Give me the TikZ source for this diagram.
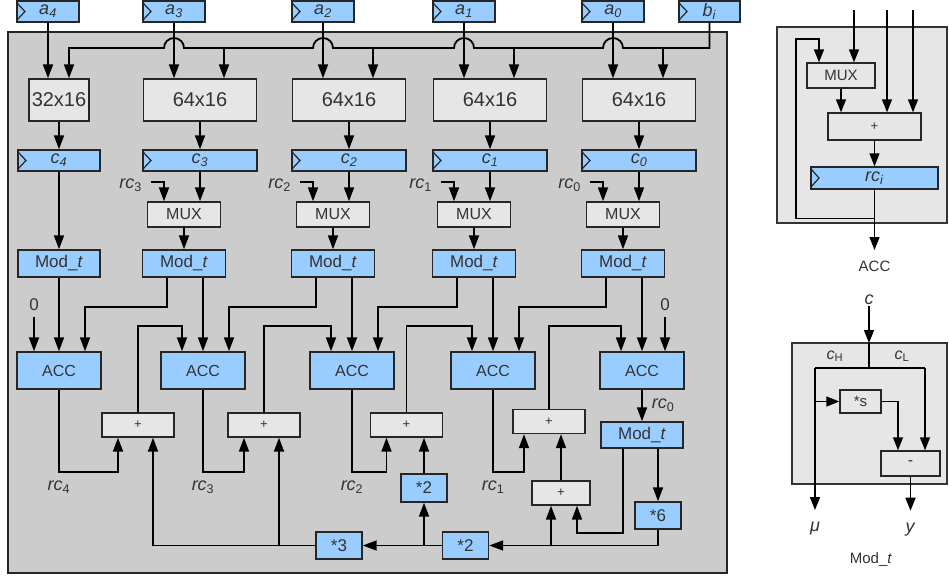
\documentclass[tikz,border=0pt]{standalone}
\usepackage{fontspec}
\setmainfont{Liberation Sans}
\usepackage{xcolor}
\usepackage{tikz}
\usetikzlibrary{arrows.meta, calc, positioning}

\definecolor{regblue}{HTML}{99CCFF}
\definecolor{boxgray}{HTML}{E6E6E6}
\definecolor{bggray}{HTML}{CCCCCC}
\definecolor{txtgray}{HTML}{333333}

\newcommand{\pxfont}[1]{\fontsize{#1pt}{#1pt}\selectfont}
\newcommand{\sig}[2]{\textit{#1}\textsubscript{\textit{#2}}}
\newcommand{\rcsub}[1]{\textit{rc}\textsubscript{#1}}

\begin{document}
\begin{tikzpicture}[x=1pt, y=-1pt, line join=miter,
  wire/.style={line width=1.8pt},
  arr/.style={wire, -{Triangle[length=14pt, width=10pt]}},
  iwire/.style={line width=1.5pt},
  iarr/.style={iwire, -{Triangle[length=13pt, width=10pt]}},
  blk/.style={draw=black!85, line width=1.4pt, inner sep=0pt, text=txtgray},
  mul/.style={blk, fill=boxgray, minimum width=113pt, minimum height=42pt, font=\pxfont{20}},
  reg/.style={blk, fill=regblue, minimum height=21pt, font=\pxfont{18},
    path picture={\draw[line width=1.2pt]
      ([yshift=-2pt]path picture bounding box.north west)
      -- ([xshift=8pt]path picture bounding box.west)
      -- ([yshift=2pt]path picture bounding box.south west);}},
  mux/.style={blk, fill=boxgray, minimum width=73pt, minimum height=25pt, font=\pxfont{16}},
  modt/.style={blk, fill=regblue, minimum width=83pt, minimum height=27pt, font=\pxfont{17}},
  acc/.style={blk, fill=regblue, minimum width=84pt, minimum height=37pt, font=\pxfont{16}},
  plus/.style={blk, fill=boxgray, minimum width=72pt, minimum height=24pt, font=\pxfont{13}},
  scl/.style={blk, fill=regblue, minimum width=46pt, minimum height=27pt, font=\pxfont{17}},
  lbl/.style={inner sep=1pt, text=txtgray, font=\pxfont{17}},
  frame/.style={draw=black!85, line width=2pt, fill=bggray},
  inset/.style={draw=black!80, line width=1.2pt, fill=boxgray}]
\useasboundingbox (0,0) rectangle (949,577);
% Main frame
\draw[frame] (8,32) rectangle (727,573);
% Columns 3..0
\foreach \k/\x in {3/174,2/323,1/464,0/613} {
  \node[reg, minimum width=62pt] (a\k) at (\x,11.5) {\sig{a}{\k}};
  \node[mul] (m\k) at (\x+26,100) {64x16};
  \node[reg, minimum width=114pt] (c\k) at (\x+26,160.5) {\sig{c}{\k}};
  \node[mux] (mux\k) at (\x+10,214.5) {MUX};
  \node[modt] (mod\k) at (\x+10,263.5) {Mod\_\textit{t}};
  \node[acc] (acc\k) at (\x+29,370.5) {ACC};
}
% Column 4 and b_i
\node[reg, minimum width=62pt] (a4) at (48,11.5) {\sig{a}{4}};
\node[reg, minimum width=61pt] (bi) at (709.5,11.5) {\sig{b}{i}};
\node[mul, minimum width=60pt] (m4) at (59,100) {32x16};
\node[reg, minimum width=82pt] (c4) at (59,160.5) {\sig{c}{4}};
\node[modt, minimum width=82pt] (mod4) at (59,263.5) {Mod\_\textit{t}};
\node[acc] (acc4) at (59,370.5) {ACC};
% b_i bus with jumps
\coordinate (bus) at (709.5,48);
\coordinate (t4) at ($(m4.north)+(10,0)$);
\draw[arr] (bi.south) -- (bus)
  \foreach \k in {0,1,2,3} {
    -- ($(a\k.south |- bus)+(10,0)$) arc[start angle=0, end angle=180, radius=10pt]
  } -- (t4 |- bus) -- (t4);
\foreach \k in {3,2,1,0} {
  \coordinate (t\k) at ($(m\k.north)+(24,0)$);
  \draw[arr] (t\k |- bus) -- (t\k);
}
\foreach \k in {4,3,2,1,0}
  \draw[arr] (a\k.south) -- (a\k.south |- m\k.north);
\foreach \k in {4,3,2,1,0}
  \draw[arr] (m\k.south) -- (c\k.north);
\draw[arr] (c4.south) -- (mod4.north);
% MUX inputs
\foreach \k in {3,2,1,0} {
  \draw[arr] (c\k.south) -- (c\k.south |- mux\k.north);
  \coordinate (r\k) at ($(mux\k.north)+(-20,0)$);
  \coordinate (rs\k) at ($(r\k)+(-13,-19)$);
  \draw[arr] (rs\k) -| (r\k);
  \node[lbl, anchor=base east, font=\pxfont{18}] (lr\k) at ($(rs\k)+(-8,6)$) {\rcsub{\k}};
  \draw[arr] (mux\k.south) -- (mod\k.north);
  \draw[arr] ($(mod\k.south)+(19,0)$) -- (acc\k.north);
}
\draw[arr] (mod4.south) -- (acc4.north);
\foreach \k/\j in {3/4,2/3,1/2,0/1}
  \draw[arr] ($(mod\k.south)+(-17,0)$) -- ++(0,29) -| ($(acc\j.north)+(26,0)$);
% Zero inputs
\node[lbl] (z4) at ($(acc4.north)+(-25,-47)$) {0};
\draw[arr, shorten <=5pt] (z4) -- (z4 |- acc4.north);
\node[lbl] (z0) at ($(acc0.north)+(23,-47)$) {0};
\draw[arr, shorten <=5pt] (z0) -- (z0 |- acc0.north);
% Adders
\node[plus] (p4) at (138,425) {+};
\node[plus] (p3) at (264,425) {+};
\node[plus] (p2) at (406.5,425) {+};
\node[plus] (p1) at (549,421.5) {+};
\node[plus, minimum width=58pt] (p0) at (561,493) {+};
\foreach \j/\k in {4/3,3/2,2/1,1/0}
  \draw[arr] (p\j.north) |- ($(acc\k.north)+(-21,-25)$) -- ($(acc\k.north)+(-21,0)$);
\foreach \k/\d in {4/-20,3/-20,2/-20,1/-25} {
  \draw[arr] (acc\k.south) -- ++(0,82) coordinate (o\k) -| ($(p\k.south)+(\d,0)$);
  \node[lbl, anchor=base, font=\pxfont{18}] (lo\k) at ($(o\k)+(0,19)$) {\rcsub{\k}};
}
% Scaling chain
\node[scl] (x3) at (339,545.5) {*3};
\node[scl] (x2b) at (465.5,545.5) {*2};
\node[scl, minimum height=28pt] (x2a) at (424,488) {*2};
\node[modt, minimum width=82pt, minimum height=26pt] (modr) at (642,435) {Mod\_\textit{t}};
\node[scl] (x6) at (658,515.5) {*6};
\draw[arr] (acc0.south) -- node[lbl, right=8pt, font=\pxfont{18}] (lrr) {\rcsub{0}} (modr.north);
\draw[arr] ($(modr.south)+(16,0)$) -- (x6.north);
\draw[arr] ($(modr.south)+(-19,0)$) -- ++(0,84) -| ($(p0.south)+(16,0)$);
\draw[arr] (x6.south) |- (x2b.east);
\coordinate (j0) at ($(p0.south)+(-10,0)$);
\draw[arr] (j0 |- x2b.east) -- (j0);
\draw[arr] (p0.north) -- (p0.north |- p1.south);
\draw[arr] (x2b.west) -- (x3.east);
\draw[arr] (x2a.south |- x3.east) -- (x2a.south);
\draw[arr] (x2a.north) -- (x2a.north |- p2.south);
\draw[arr] (x3.west) -| ($(p4.south)+(15,0)$);
\coordinate (q3) at ($(p3.south)+(15,0)$);
\draw[arr] (q3 |- x3.west) -- (q3);
% ACC detail
\draw[inset] (777,27) rectangle (947,223);
\node[mux, minimum width=68pt, font=\pxfont{15}] (imux) at (841,75.5) {MUX};
\node[plus, minimum width=93pt, minimum height=27pt] (iplus) at (874.5,126.5) {+};
\node[reg, minimum width=127pt, minimum height=22pt] (irc) at (874.5,178) {\sig{rc}{i}};
\coordinate (in1) at (854,10);
\coordinate (in2) at (887,10);
\coordinate (in3) at (913,10);
\draw[iarr] (in1) -- (in1 |- imux.north);
\draw[iarr] (in2) -- (in2 |- iplus.north);
\draw[iarr] (in3) -- (in3 |- iplus.north);
\draw[iarr] (imux.south) -- (imux.south |- iplus.north);
\draw[iarr] (iplus.south) -- (irc.north);
\coordinate (iout) at (874.5,250);
\draw[iarr] (irc.south) -- (iout);
\draw[iarr] (irc.south) -- ++(0,29) -| (796,39) -| ($(imux.north)+(-22,0)$);
\node[lbl, font=\pxfont{15}] (iacc) at (874.5,266) {ACC};
% Mod_t detail
\draw[inset] (792,343) rectangle (947,484);
\node[lbl, font=\pxfont{18}\itshape] (cin) at (869,300) {c};
\coordinate (ctop) at (869,343);
\coordinate (cj) at (869,368);
\coordinate (cH) at (815,368);
\coordinate (cL) at (925,368);
\draw[iarr] (cin) -- (ctop);
\draw[iwire] (ctop) -- (cj);
\draw[iwire] (cH) -- (cL);
\node[lbl, font=\pxfont{16}] (lcH) at (835,356) {\textit{c}\textsubscript{H}};
\node[lbl, font=\pxfont{16}] (lcL) at (902,356) {\textit{c}\textsubscript{L}};
\node[plus, minimum width=41pt, minimum height=23pt, font=\pxfont{15}] (is) at (860.5,401.5) {*s};
\node[plus, minimum width=59pt, minimum height=25pt, font=\pxfont{16}] (minus) at (910.5,463.5) {-};
\draw[iarr] (cH) -- ++(0,142) coordinate (muo);
\draw[iarr] (cH |- is.west) -- (is.west);
\draw[iarr] (cL) -- (cL |- minus.north);
\draw[iarr] (is.east) -| ($(minus.north)+(-12.5,0)$);
\draw[iarr] (minus.south) -- ++(0,34) coordinate (yo);
\node[lbl, font=\pxfont{18}] (lmu) at ($(muo)+(0,18)$) {\textit{μ}};
\node[lbl, font=\pxfont{18}] (ly) at ($(yo)+(0,19)$) {\textit{y}};
\node[lbl, font=\pxfont{15}] (lmod) at (871,560) {Mod\_\textit{t}};
\end{tikzpicture}
\end{document}
